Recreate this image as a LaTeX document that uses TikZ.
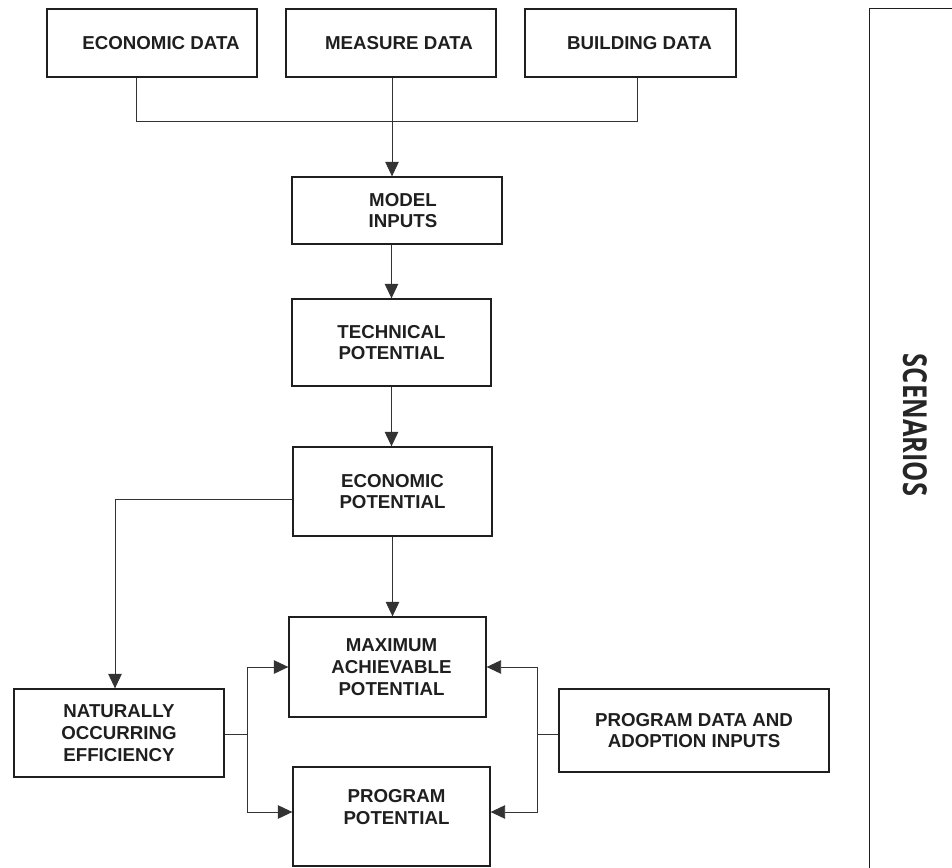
\documentclass[tikz,border=0pt]{standalone}
\usepackage{fontspec}
\setmainfont{Liberation Sans}
\newfontfamily\scenfont{Open Sans}
\usetikzlibrary{arrows.meta}
\begin{document}
\begin{tikzpicture}[x=1pt,y=1pt,
  box/.style={draw=black!88, line width=1.3pt, rectangle, inner sep=0pt, align=center,
    font=\fontsize{18.7}{21.7}\selectfont\bfseries, text=black!88},
  lbl/.style={inner sep=0pt, align=center, font=\fontsize{18.7}{21.7}\selectfont\bfseries, text=black!88},
  conn/.style={draw=black!80, line width=0.9pt},
  arr/.style={conn, -{Triangle[length=14.5pt,width=13.5pt]}}]
\useasboundingbox (0,0) rectangle (952,-867);
% top data boxes
\node[box, minimum width=210pt, minimum height=68pt] (ed) at (152,-43) {\hspace*{18pt}ECONOMIC DATA};
\node[box, minimum width=210pt, minimum height=68pt] (md) at (391,-43) {\hspace*{16pt}MEASURE DATA};
\node[box, minimum width=211pt, minimum height=68pt] (bd) at (630.5,-43) {\hspace*{18pt}BUILDING DATA};
% chain
\node[box, minimum width=210pt, minimum height=67pt] (mi) at (397,-210.5) {\hspace*{12pt}MODEL\\\hspace*{12pt}INPUTS};
\node[box, minimum width=199pt, minimum height=87pt] (tp) at (391.5,-342.5) {TECHNICAL\\POTENTIAL};
\node[box, minimum width=199pt, minimum height=89pt] (ep) at (392.5,-491.5) {ECONOMIC\\POTENTIAL};
\node[box, minimum width=197pt, minimum height=100pt] (map) at (387.5,-667) {\hspace*{8pt}MAXIMUM\\\hspace*{8pt}ACHIEVABLE\\\hspace*{8pt}POTENTIAL};
\node[box, minimum width=210pt, minimum height=88pt] (noe) at (119,-733) {NATURALLY\\OCCURRING\\EFFICIENCY};
\node[box, minimum width=197pt, minimum height=99pt,
  label={[lbl, name=ppt, xshift=5pt, yshift=9.5pt]center:PROGRAM\\POTENTIAL}] (pp) at (391.5,-816.5) {};
\node[box, minimum width=270pt, minimum height=83pt] (pda) at (694,-730.5) {PROGRAM DATA AND\\ADOPTION INPUTS};
% scenarios frame
\node[box, draw=none, minimum width=90pt, minimum height=858pt] (sc) at (915,-438) {};
\draw[draw=black!88, line width=1.3pt] (sc.north east) -- (sc.north west) -- (sc.south west);
\node[inner sep=0pt, rotate=-90, font=\scenfont\bfseries\fontsize{33}{36}\selectfont, text=black!85] (sct) at (915,-425) {\scalebox{0.77}[1]{SCENARIOS}};
% connectors
\coordinate (jn) at (392,-121);
\draw[conn] ([xshift=-16pt]ed.south) |- (jn);
\draw[conn] ([xshift=6.5pt]bd.south) |- (jn);
\draw[arr] ([xshift=1pt]md.south) -- ([xshift=1pt]md.south |- mi.north);
\draw[arr] (tp.north |- mi.south) -- (tp.north);
\draw[arr] (tp.south) -- (tp.south |- ep.north);
\draw[arr] (ep.south) -- (ep.south |- map.north);
\draw[arr] ([yshift=-7.5pt]ep.west) -| ([xshift=-4pt]noe.north);
\coordinate (nj) at (247,-734);
\draw[conn] (noe.east |- nj) -- (nj);
\draw[arr] (nj) |- (map.west);
\draw[arr] (nj) |- ([yshift=4.5pt]pp.west);
\coordinate (pj) at (537,-734);
\draw[conn] (pda.west |- pj) -- (pj);
\draw[arr] (pj) |- (map.east);
\draw[arr] (pj) |- ([yshift=4.5pt]pp.east);
\end{tikzpicture}
\end{document}
